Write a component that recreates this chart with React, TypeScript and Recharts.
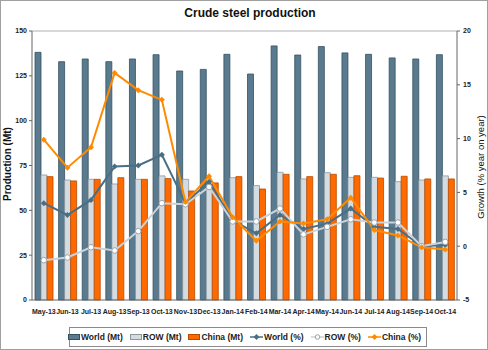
import React from 'react'
import { ComposedChart, Bar, Line, XAxis, YAxis, ReferenceLine } from 'recharts'

const months = [
  'May-13', 'Jun-13', 'Jul-13', 'Aug-13', 'Sep-13', 'Oct-13', 'Nov-13', 'Dec-13', 'Jan-14',
  'Feb-14', 'Mar-14', 'Apr-14', 'May-14', 'Jun-14', 'Jul-14', 'Aug-14', 'Sep-14', 'Oct-14',
]

const worldMt = [138.1, 132.9, 134.4, 132.9, 134.4, 136.8, 127.7, 128.6, 137.0, 126.0, 141.7, 136.6, 141.3, 137.8, 137.0, 135.0, 134.4, 136.8]
const rowMt = [69.7, 66.9, 67.3, 64.7, 67.3, 69.2, 67.3, 63.3, 68.2, 63.8, 71.2, 67.5, 71.0, 68.4, 68.4, 66.0, 66.9, 69.2]
const chinaMt = [68.8, 66.4, 67.3, 68.2, 67.3, 67.7, 60.8, 65.3, 68.8, 61.9, 70.1, 68.8, 70.1, 69.3, 68.0, 69.0, 67.5, 67.5]

const worldPct = [4.0, 2.9, 4.3, 7.4, 7.5, 8.5, 4.0, 6.0, 2.4, 1.2, 2.9, 1.6, 2.1, 3.5, 1.8, 1.6, 0.0, 0.1]
const rowPct = [-1.3, -1.05, -0.1, -0.4, 1.4, 4.0, 3.9, 5.5, 2.3, 2.3, 3.5, 1.1, 1.8, 2.5, 2.2, 2.2, 0.0, 0.4]
const chinaPct = [9.9, 7.3, 9.2, 16.1, 14.5, 13.6, 4.1, 6.5, 2.7, 0.5, 2.3, 2.1, 2.5, 4.5, 1.5, 1.0, -0.1, -0.3]

const leftTicks = [0, 25, 50, 75, 100, 125, 150]
const rightTicks = [-5, 0, 5, 10, 15, 20]

const data = months.map((m, i) => ({
  month: m,
  worldMt: worldMt[i],
  rowMt: rowMt[i],
  chinaMt: chinaMt[i],
  worldPct: worldPct[i],
  rowPct: rowPct[i],
  chinaPct: chinaPct[i],
}))

const FONT = '"Liberation Sans", Arial, sans-serif'

const C = {
  worldBar: '#5a7b8f',
  worldBarEdge: '#34505f',
  rowBar: '#d4dce2',
  rowBarEdge: '#8c979e',
  chinaBar: '#ff6a00',
  chinaBarEdge: '#b84a00',
  worldLine: '#4a6f85',
  rowLine: '#c9d3db',
  rowMarker: '#98a3ab',
  chinaLine: '#ff8a00',
}

const CrossDot = (color: string) => (props: any) => {
  const { cx, cy, index } = props
  if (cx == null || cy == null) return null
  return (
    <g key={`d-${color}-${index}`}>
      <path d={`M${cx - 3},${cy} L${cx},${cy - 3} L${cx + 3},${cy} L${cx},${cy + 3} Z`} fill={color} />
    </g>
  )
}

const OpenDot = (props: any) => {
  const { cx, cy, index } = props
  if (cx == null || cy == null) return null
  return <circle key={`o-${index}`} cx={cx} cy={cy} r={2.8} fill="#fff" stroke={C.rowMarker} strokeWidth={1} />
}

const tickStyle = { fontSize: 7, fontWeight: 700, fill: '#222', fontFamily: FONT }

function LegendBox() {
  const item = (swatch: React.ReactNode, label: string) => (
    <span style={{ display: 'inline-flex', alignItems: 'center', marginRight: 7 }}>
      {swatch}
      <span style={{ marginLeft: 1 }}>{label}</span>
    </span>
  )
  const box = (fill: string, edge: string) => (
    <span style={{ display: 'inline-block', width: 10, height: 4, background: fill, border: `1px solid ${edge}` }} />
  )
  const line = (color: string, open?: boolean) => (
    <svg width={13} height={8}>
      <line x1={0} y1={4} x2={13} y2={4} stroke={color} strokeWidth={1.5} />
      {open ? (
        <circle cx={6.5} cy={4} r={2.3} fill="#fff" stroke={C.rowMarker} />
      ) : (
        <path d="M3.5,4 L6.5,1 L9.5,4 L6.5,7 Z" fill={color} />
      )}
    </svg>
  )
  return (
    <div
      style={{
        position: 'absolute',
        left: 69,
        top: 327,
        width: 356,
        height: 18,
        border: '1px solid #8a8a8a',
        display: 'flex',
        alignItems: 'center',
        justifyContent: 'center',
        fontFamily: FONT,
        fontSize: 8.5,
        fontWeight: 700,
        color: '#222',
        whiteSpace: 'nowrap',
      }}
    >
      {item(box(C.worldBar, C.worldBarEdge), 'World (Mt)')}
      {item(box(C.rowBar, C.rowBarEdge), 'ROW (Mt)')}
      {item(box(C.chinaBar, C.chinaBarEdge), 'China (Mt)')}
      {item(line(C.worldLine), 'World (%)')}
      {item(line(C.rowLine, true), 'ROW (%)')}
      {item(line(C.chinaLine), 'China (%)')}
    </div>
  )
}

export default function App() {
  return (
    <div style={{ position: 'absolute', left: 0, top: 0, width: 488, height: 350, background: '#fff', fontFamily: FONT }}>
      <div
        style={{
          position: 'absolute',
          left: 0,
          top: 0,
          width: 486,
          height: 348,
          border: '1px solid #a0a0a0',
        }}
      />
      <div
        style={{
          position: 'absolute',
          left: 0,
          width: 500,
          top: 6,
          textAlign: 'center',
          fontSize: 12,
          fontWeight: 700,
          color: '#111',
        }}
      >
        Crude steel production
      </div>
      <div
        style={{
          position: 'absolute',
          left: 7,
          top: 164,
          transform: 'translate(-50%, -50%) rotate(-90deg)',
          fontSize: 10,
          fontWeight: 700,
          color: '#111',
          whiteSpace: 'nowrap',
        }}
      >
        Production (Mt)
      </div>
      <div
        style={{
          position: 'absolute',
          left: 480,
          top: 167,
          transform: 'translate(-50%, -50%) rotate(-90deg)',
          fontSize: 9.5,
          fontWeight: 400,
          color: '#111',
          whiteSpace: 'nowrap',
        }}
      >
        Growth (% year on year)
      </div>
      <div style={{ position: 'absolute', left: 0, top: 0 }}>
        <ComposedChart
          width={488}
          height={350}
          data={data}
          margin={{ top: 31, right: 0, left: 0, bottom: 30 }}
          barGap={0}
          barCategoryGap={3}
        >
          <XAxis
            dataKey="month"
            height={20}
            interval={0}
            tickLine={false}
            tickMargin={3}
            stroke="#666"
            tick={tickStyle}
          />
          <YAxis
            yAxisId="left"
            width={32}
            domain={[0, 150]}
            ticks={leftTicks}
            tickSize={3}
            tickMargin={2}
            stroke="#666"
            tick={tickStyle}
          />
          <YAxis
            yAxisId="right"
            orientation="right"
            width={31}
            domain={[-5, 20]}
            ticks={rightTicks}
            tickSize={3}
            tickMargin={3}
            stroke="#666"
            tick={{ ...tickStyle, textAnchor: 'start' }}
          />
          <ReferenceLine yAxisId="left" y={150} stroke="#b0b0b0" strokeWidth={1} />
          <Bar yAxisId="left" dataKey="worldMt" fill={C.worldBar} stroke={C.worldBarEdge} strokeWidth={0.8} isAnimationActive={false} />
          <Bar yAxisId="left" dataKey="rowMt" fill={C.rowBar} stroke={C.rowBarEdge} strokeWidth={0.8} isAnimationActive={false} />
          <Bar yAxisId="left" dataKey="chinaMt" fill={C.chinaBar} stroke={C.chinaBarEdge} strokeWidth={0.8} isAnimationActive={false} />
          <Line
            yAxisId="right"
            dataKey="worldPct"
            type="linear"
            stroke={C.worldLine}
            strokeWidth={2}
            dot={CrossDot(C.worldLine)}
            isAnimationActive={false}
          />
          <Line
            yAxisId="right"
            dataKey="rowPct"
            type="linear"
            stroke={C.rowLine}
            strokeWidth={2}
            dot={OpenDot}
            isAnimationActive={false}
          />
          <Line
            yAxisId="right"
            dataKey="chinaPct"
            type="linear"
            stroke={C.chinaLine}
            strokeWidth={2}
            dot={CrossDot(C.chinaLine)}
            isAnimationActive={false}
          />
        </ComposedChart>
      </div>
      <LegendBox />
    </div>
  )
}
